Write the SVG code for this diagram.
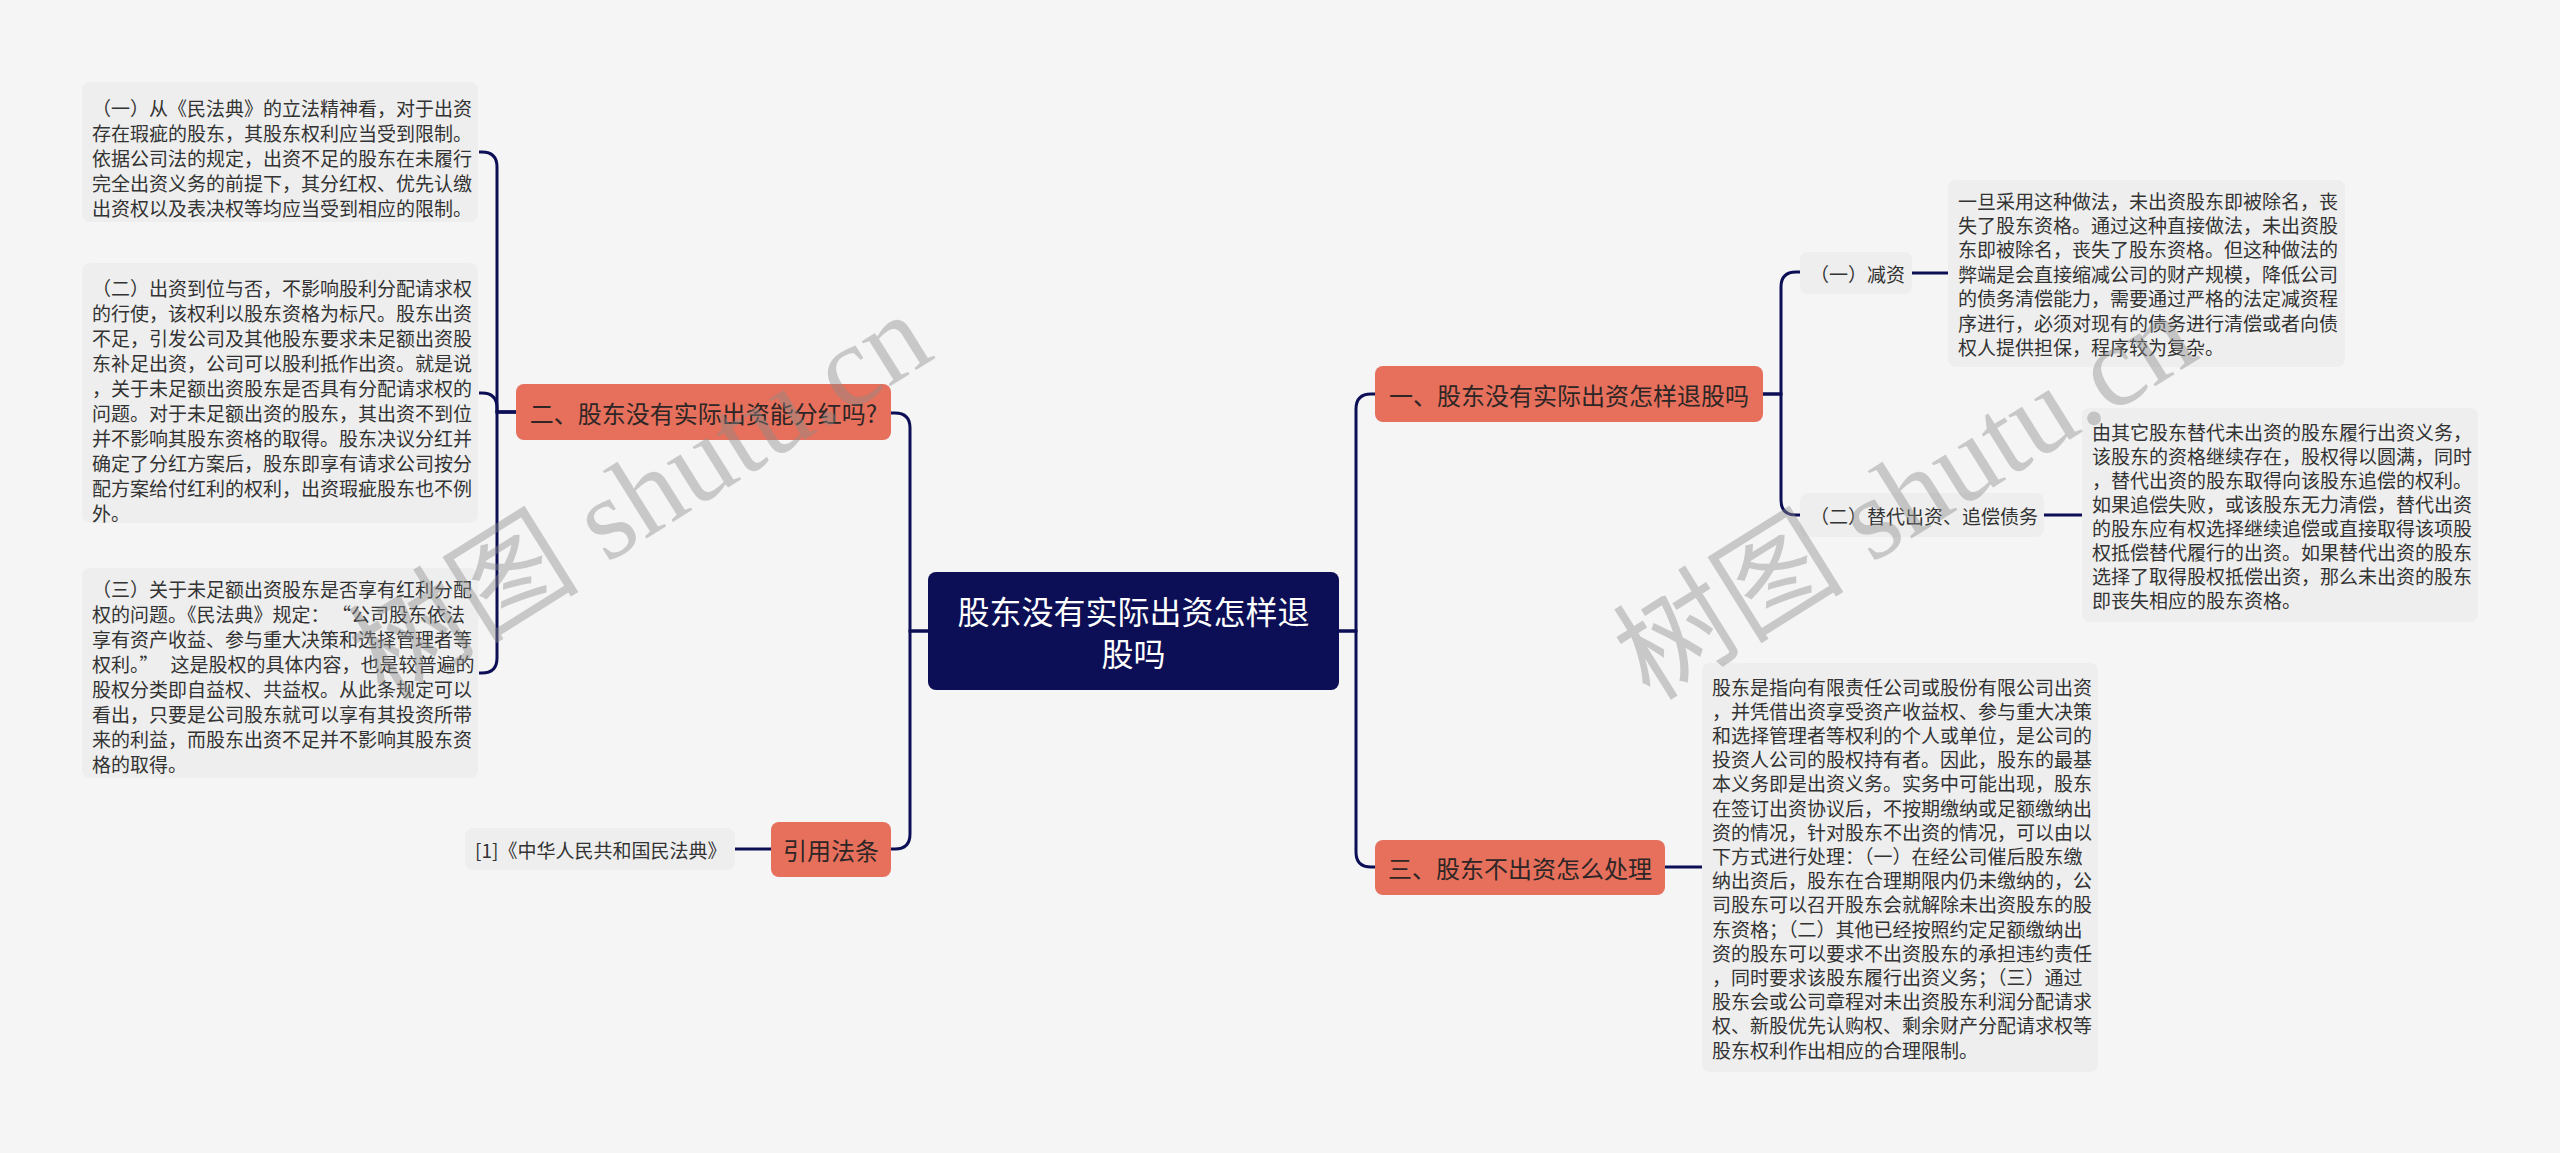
<svg xmlns="http://www.w3.org/2000/svg" width="2560" height="1153" viewBox="0 0 2560 1153">
<style>
.bg{fill:#f5f5f5}
.link{fill:none;stroke:#0c0f55;stroke-width:3}
.main{fill:#0c0f55}
.main-t{font-family:"Noto Sans CJK SC","Noto Sans",sans-serif;font-size:32px;fill:#ffffff;text-anchor:middle;dominant-baseline:central}
.br{fill:#e6705b}
.br-t{font-family:"Noto Sans CJK SC","Noto Sans",sans-serif;font-size:24px;fill:#2e2626;text-anchor:middle;dominant-baseline:central}
.leaf{fill:#eeeeee}
.t{font-family:"Noto Sans CJK SC","Noto Sans",sans-serif;font-size:19px;fill:#333333;dominant-baseline:central}
.wm{font-family:"Liberation Serif","Noto Sans CJK SC",serif;font-size:116px;fill:#8c8c8c;opacity:0.42}
</style>
<rect class="bg" x="0" y="0" width="2560" height="1153"/>

<g id="connectors">
<path class="link" d="M1339,631 H1356 V409 Q1356,394 1371,394 H1375"/>
<path class="link" d="M1339,631 H1356 V852 Q1356,867 1371,867 H1375"/>
<path class="link" d="M928,631 H910 V428 Q910,413 895,413 H891"/>
<path class="link" d="M928,631 H910 V834 Q910,849 895,849 H891"/>
<path class="link" d="M516,412 H497 V167 Q497,152 482,152 H479"/>
<path class="link" d="M516,412 H497 V408 Q497,393 482,393 H479"/>
<path class="link" d="M516,412 H497 V658 Q497,673 482,673 H479"/>
<path class="link" d="M771,849 H735"/>
<path class="link" d="M1763,394 H1781 V287 Q1781,272 1796,272 H1800"/>
<path class="link" d="M1763,394 H1781 V500 Q1781,515 1796,515 H1800"/>
<path class="link" d="M1912,273 H1948"/>
<path class="link" d="M2044,515 H2082"/>
<path class="link" d="M1665,867 H1702"/>
</g>

<g id="root">
<rect class="main" x="928" y="572" width="411" height="118" rx="8"/>
<text class="main-t" x="1133.5" y="610">股东没有实际出资怎样退</text>
<text class="main-t" x="1133.5" y="652">股吗</text>
</g>

<g id="b1">
<rect class="br" x="1375" y="366" width="388" height="56" rx="8"/>
<text class="br-t" x="1569" y="394">一、股东没有实际出资怎样退股吗</text>
</g>

<g id="b3">
<rect class="br" x="1375" y="840" width="290" height="55" rx="8"/>
<text class="br-t" x="1520" y="867">三、股东不出资怎么处理</text>
</g>

<g id="b2">
<rect class="br" x="516" y="384" width="375" height="56" rx="8"/>
<text class="br-t" x="703.5" y="412">二、股东没有实际出资能分红吗?</text>
</g>

<g id="b4">
<rect class="br" x="771" y="822" width="120" height="55" rx="8"/>
<text class="br-t" x="831" y="849">引用法条</text>
</g>

<g id="cite">
<rect class="leaf" x="465" y="828" width="270" height="42" rx="8"/>
<text class="t" x="475" y="849">[1]《中华人民共和国民法典》</text>
</g>

<g id="s1">
<rect class="leaf" x="1800" y="252" width="112" height="42" rx="8"/>
<text class="t" x="1810" y="273">（一）减资</text>
</g>

<g id="s2">
<rect class="leaf" x="1800" y="493" width="244" height="44" rx="8"/>
<text class="t" x="1810" y="515">（二）替代出资、追偿债务</text>
</g>

<g id="l1">
<rect class="leaf" x="82" y="82" width="396" height="140" rx="8"/>
<text class="t" x="92" y="107">（一）从《民法典》的立法精神看，对于出资</text>
<text class="t" x="92" y="132">存在瑕疵的股东，其股东权利应当受到限制。</text>
<text class="t" x="92" y="157">依据公司法的规定，出资不足的股东在未履行</text>
<text class="t" x="92" y="182">完全出资义务的前提下，其分红权、优先认缴</text>
<text class="t" x="92" y="207">出资权以及表决权等均应当受到相应的限制。</text>
</g>

<g id="l2">
<rect class="leaf" x="82" y="263" width="396" height="260" rx="8"/>
<text class="t" x="92" y="287">（二）出资到位与否，不影响股利分配请求权</text>
<text class="t" x="92" y="312">的行使，该权利以股东资格为标尺。股东出资</text>
<text class="t" x="92" y="337">不足，引发公司及其他股东要求未足额出资股</text>
<text class="t" x="92" y="362">东补足出资，公司可以股利抵作出资。就是说</text>
<text class="t" x="92" y="387">，关于未足额出资股东是否具有分配请求权的</text>
<text class="t" x="92" y="412">问题。对于未足额出资的股东，其出资不到位</text>
<text class="t" x="92" y="437">并不影响其股东资格的取得。股东决议分红并</text>
<text class="t" x="92" y="462">确定了分红方案后，股东即享有请求公司按分</text>
<text class="t" x="92" y="487">配方案给付红利的权利，出资瑕疵股东也不例</text>
<text class="t" x="92" y="512">外。</text>
</g>

<g id="l3">
<rect class="leaf" x="82" y="568" width="396" height="210" rx="8"/>
<text class="t" x="92" y="588">（三）关于未足额出资股东是否享有红利分配</text>
<text class="t" x="92" y="613">权的问题。《民法典》规定：<tspan dx="12">“公司股东依法</tspan></text>
<text class="t" x="92" y="638">享有资产收益、参与重大决策和选择管理者等</text>
<text class="t" x="92" y="663">权利。”<tspan dx="12">这是股权的具体内容，也是较普遍的</tspan></text>
<text class="t" x="92" y="688">股权分类即自益权、共益权。从此条规定可以</text>
<text class="t" x="92" y="713">看出，只要是公司股东就可以享有其投资所带</text>
<text class="t" x="92" y="738">来的利益，而股东出资不足并不影响其股东资</text>
<text class="t" x="92" y="763">格的取得。</text>
</g>

<g id="r1">
<rect class="leaf" x="1948" y="180" width="397" height="187" rx="8"/>
<text class="t" x="1958" y="200">一旦采用这种做法，未出资股东即被除名，丧</text>
<text class="t" x="1958" y="224.4">失了股东资格。通过这种直接做法，未出资股</text>
<text class="t" x="1958" y="248.8">东即被除名，丧失了股东资格。但这种做法的</text>
<text class="t" x="1958" y="273.2">弊端是会直接缩减公司的财产规模，降低公司</text>
<text class="t" x="1958" y="297.6">的债务清偿能力，需要通过严格的法定减资程</text>
<text class="t" x="1958" y="322">序进行，必须对现有的债务进行清偿或者向债</text>
<text class="t" x="1958" y="346.4">权人提供担保，程序较为复杂。</text>
</g>

<g id="r2">
<rect class="leaf" x="2082" y="408" width="396" height="214" rx="8"/>
<text class="t" x="2092" y="431.5">由其它股东替代未出资的股东履行出资义务，</text>
<text class="t" x="2092" y="455.5">该股东的资格继续存在，股权得以圆满，同时</text>
<text class="t" x="2092" y="479.5">，替代出资的股东取得向该股东追偿的权利。</text>
<text class="t" x="2092" y="503.5">如果追偿失败，或该股东无力清偿，替代出资</text>
<text class="t" x="2092" y="527.5">的股东应有权选择继续追偿或直接取得该项股</text>
<text class="t" x="2092" y="551.5">权抵偿替代履行的出资。如果替代出资的股东</text>
<text class="t" x="2092" y="575.5">选择了取得股权抵偿出资，那么未出资的股东</text>
<text class="t" x="2092" y="599.5">即丧失相应的股东资格。</text>
</g>

<g id="r3">
<rect class="leaf" x="1702" y="663" width="396" height="409" rx="8"/>
<text class="t" x="1712" y="686">股东是指向有限责任公司或股份有限公司出资</text>
<text class="t" x="1712" y="710.2">，并凭借出资享受资产收益权、参与重大决策</text>
<text class="t" x="1712" y="734.4">和选择管理者等权利的个人或单位，是公司的</text>
<text class="t" x="1712" y="758.6">投资人公司的股权持有者。因此，股东的最基</text>
<text class="t" x="1712" y="782.8">本义务即是出资义务。实务中可能出现，股东</text>
<text class="t" x="1712" y="807">在签订出资协议后，不按期缴纳或足额缴纳出</text>
<text class="t" x="1712" y="831.2">资的情况，针对股东不出资的情况，可以由以</text>
<text class="t" x="1712" y="855.4">下方式进行处理：（一）在经公司催后股东缴</text>
<text class="t" x="1712" y="879.6">纳出资后，股东在合理期限内仍未缴纳的，公</text>
<text class="t" x="1712" y="903.8">司股东可以召开股东会就解除未出资股东的股</text>
<text class="t" x="1712" y="928">东资格；（二）其他已经按照约定足额缴纳出</text>
<text class="t" x="1712" y="952.2">资的股东可以要求不出资股东的承担违约责任</text>
<text class="t" x="1712" y="976.4">，同时要求该股东履行出资义务；（三）通过</text>
<text class="t" x="1712" y="1000.6">股东会或公司章程对未出资股东利润分配请求</text>
<text class="t" x="1712" y="1024.8">权、新股优先认购权、剩余财产分配请求权等</text>
<text class="t" x="1712" y="1049">股东权利作出相应的合理限制。</text>
</g>

<g id="watermarks">
<text class="wm" x="385" y="702" transform="rotate(-32 385 702)">树图 shutu.cn</text>
<text class="wm" x="1650" y="702" transform="rotate(-32 1650 702)">树图 shutu.cn</text>
</g>
</svg>
